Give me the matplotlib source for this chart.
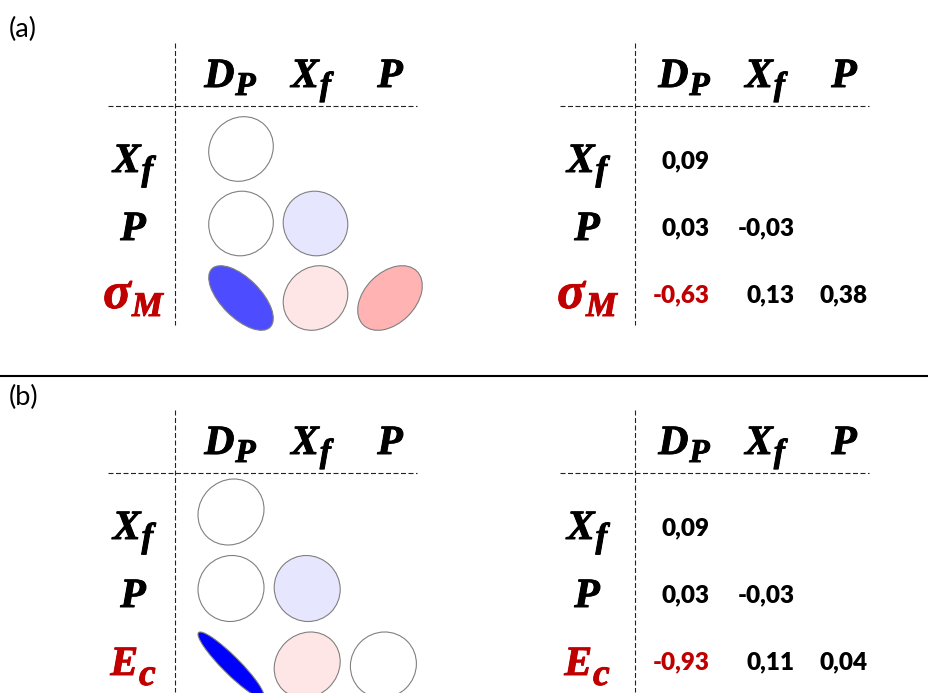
import matplotlib
matplotlib.use("Agg")
import matplotlib.pyplot as plt
import matplotlib.patheffects as pe
from matplotlib.patches import Ellipse
from matplotlib.colors import LinearSegmentedColormap, Normalize
import numpy as np

# ---------------- data ----------------
panel_labels = ["(a)", "(b)"]
col_vars = [("D", "P"), ("X", "f"), ("P", "")]
row_vars_a = [("X", "f"), ("P", ""), ("σ", "M")]
row_vars_b = [("X", "f"), ("P", ""), ("E", "c")]
corr_a = [[0.09], [0.03, -0.03], [-0.63, 0.13, 0.38]]
corr_b = [[0.09], [0.03, -0.03], [-0.93, 0.11, 0.04]]
highlight_row = 2  # target variable row (drawn in dark red)

# ---------------- style / layout ----------------
W, H = 929, 693
SERIF = "Liberation Serif"
SANS = "Lato"
DARKRED = "#C00000"
plt.rcParams["lines.scale_dashes"] = False

fig = plt.figure(figsize=(W / 100, H / 100), dpi=100)
ax = fig.add_axes([0, 0, 1, 1])
ax.set_xlim(0, W)
ax.set_ylim(H, 0)
ax.axis("off")
renderer = fig.canvas.get_renderer()

# 21-level blue-white-red scale (steps of 0.1 in correlation)
cmap = LinearSegmentedColormap.from_list("bwr21", ["#0000FF", "#FFFFFF", "#FF0000"], N=21)
norm = Normalize(-1, 1)


def var_label(x, y, main, sub, color, main_size=30, sub_size=24, drop=8, gap=1):
    effects = [pe.withStroke(linewidth=0.7, foreground=color)]
    kw = dict(fontfamily=SERIF, fontweight="bold", fontstyle="italic", color=color,
              va="baseline", ha="left", path_effects=effects)
    t1 = ax.text(0, y, main, fontsize=main_size, **kw)
    w1 = t1.get_window_extent(renderer).width
    t2, w2 = None, 0
    if sub:
        t2 = ax.text(0, y + drop, sub, fontsize=sub_size, **kw)
        w2 = t2.get_window_extent(renderer).width + gap
    x0 = x - (w1 + w2) / 2
    t1.set_x(x0)
    if t2 is not None:
        t2.set_x(x0 + w1 + gap)


def dashed(xs, ys):
    ax.plot(xs, ys, color="#222222", lw=0.8, dashes=(3.6, 1.8))


panels = [
    dict(rows=row_vars_a, corr=corr_a, dy=0, cx0=241, cstep=74.5, cy0=149, rstep=74.5, R=32.3),
    dict(rows=row_vars_b, corr=corr_b, dy=367, cx0=231, cstep=76.2, cy0=512, rstep=76.5, R=33.0),
]

header_x = [230, 311, 390]
label_x_left = 133
table_shift = 454
row_base = [172, 240, 308]
num_right = [710, 795, 868]
num_base = [168, 235, 302]

for p, panel in enumerate(panels):
    dy = panel["dy"]
    # panel label
    ax.text(9, 29 + dy * 1.005, panel_labels[p], fontfamily=SANS, fontsize=19.5,
            va="center", ha="left", color="black")

    for shift, vx in ((0, 175), (table_shift, 635)):
        # grid lines
        dashed([vx, vx], [43 + dy, 325 + dy])
        dashed([108 + shift * 0.995, 417 + shift * 0.995], [106 + dy, 106 + dy])
        # column headers
        for j, (m, s) in enumerate(col_vars):
            var_label(header_x[j] + shift, 87 + dy, m, s, "black")
        # row labels
        for i, (m, s) in enumerate(panel["rows"]):
            color = DARKRED if i == highlight_row else "black"
            size = 37 if m == "σ" else 30
            ssize = 27 if s == "c" else 25
            var_label(label_x_left + shift, row_base[i] + dy, m, s, color,
                      main_size=size, sub_size=ssize, drop=8 if s != "c" else 10)

    # ellipses (left table)
    R = panel["R"]
    for i, row in enumerate(panel["corr"]):
        for j, r in enumerate(row):
            cx = panel["cx0"] + j * panel["cstep"]
            cy = panel["cy0"] + i * panel["rstep"]
            level = np.floor(r * 10 + 1e-9) / 10
            fc = cmap(norm(level))
            e = Ellipse((cx, cy), width=2 * R * np.sqrt(1 + r), height=2 * R * np.sqrt(1 - r),
                        angle=-45, facecolor=fc, edgecolor="#808080", lw=0.8)
            ax.add_patch(e)

    # numbers (right table)
    for i, row in enumerate(panel["corr"]):
        for j, r in enumerate(row):
            txt = f"{r:.2f}".replace(".", ",")
            color = DARKRED if abs(r) > 0.5 else "black"
            ax.text(num_right[j], num_base[i] + dy, txt, fontfamily=SANS, fontweight="heavy",
                    fontsize=17.5, color=color, ha="right", va="baseline")

# separator between panels
ax.plot([0, W], [375.5, 375.5], color="black", lw=1.5, solid_capstyle="butt")

fig.savefig("out.png", dpi=100)
